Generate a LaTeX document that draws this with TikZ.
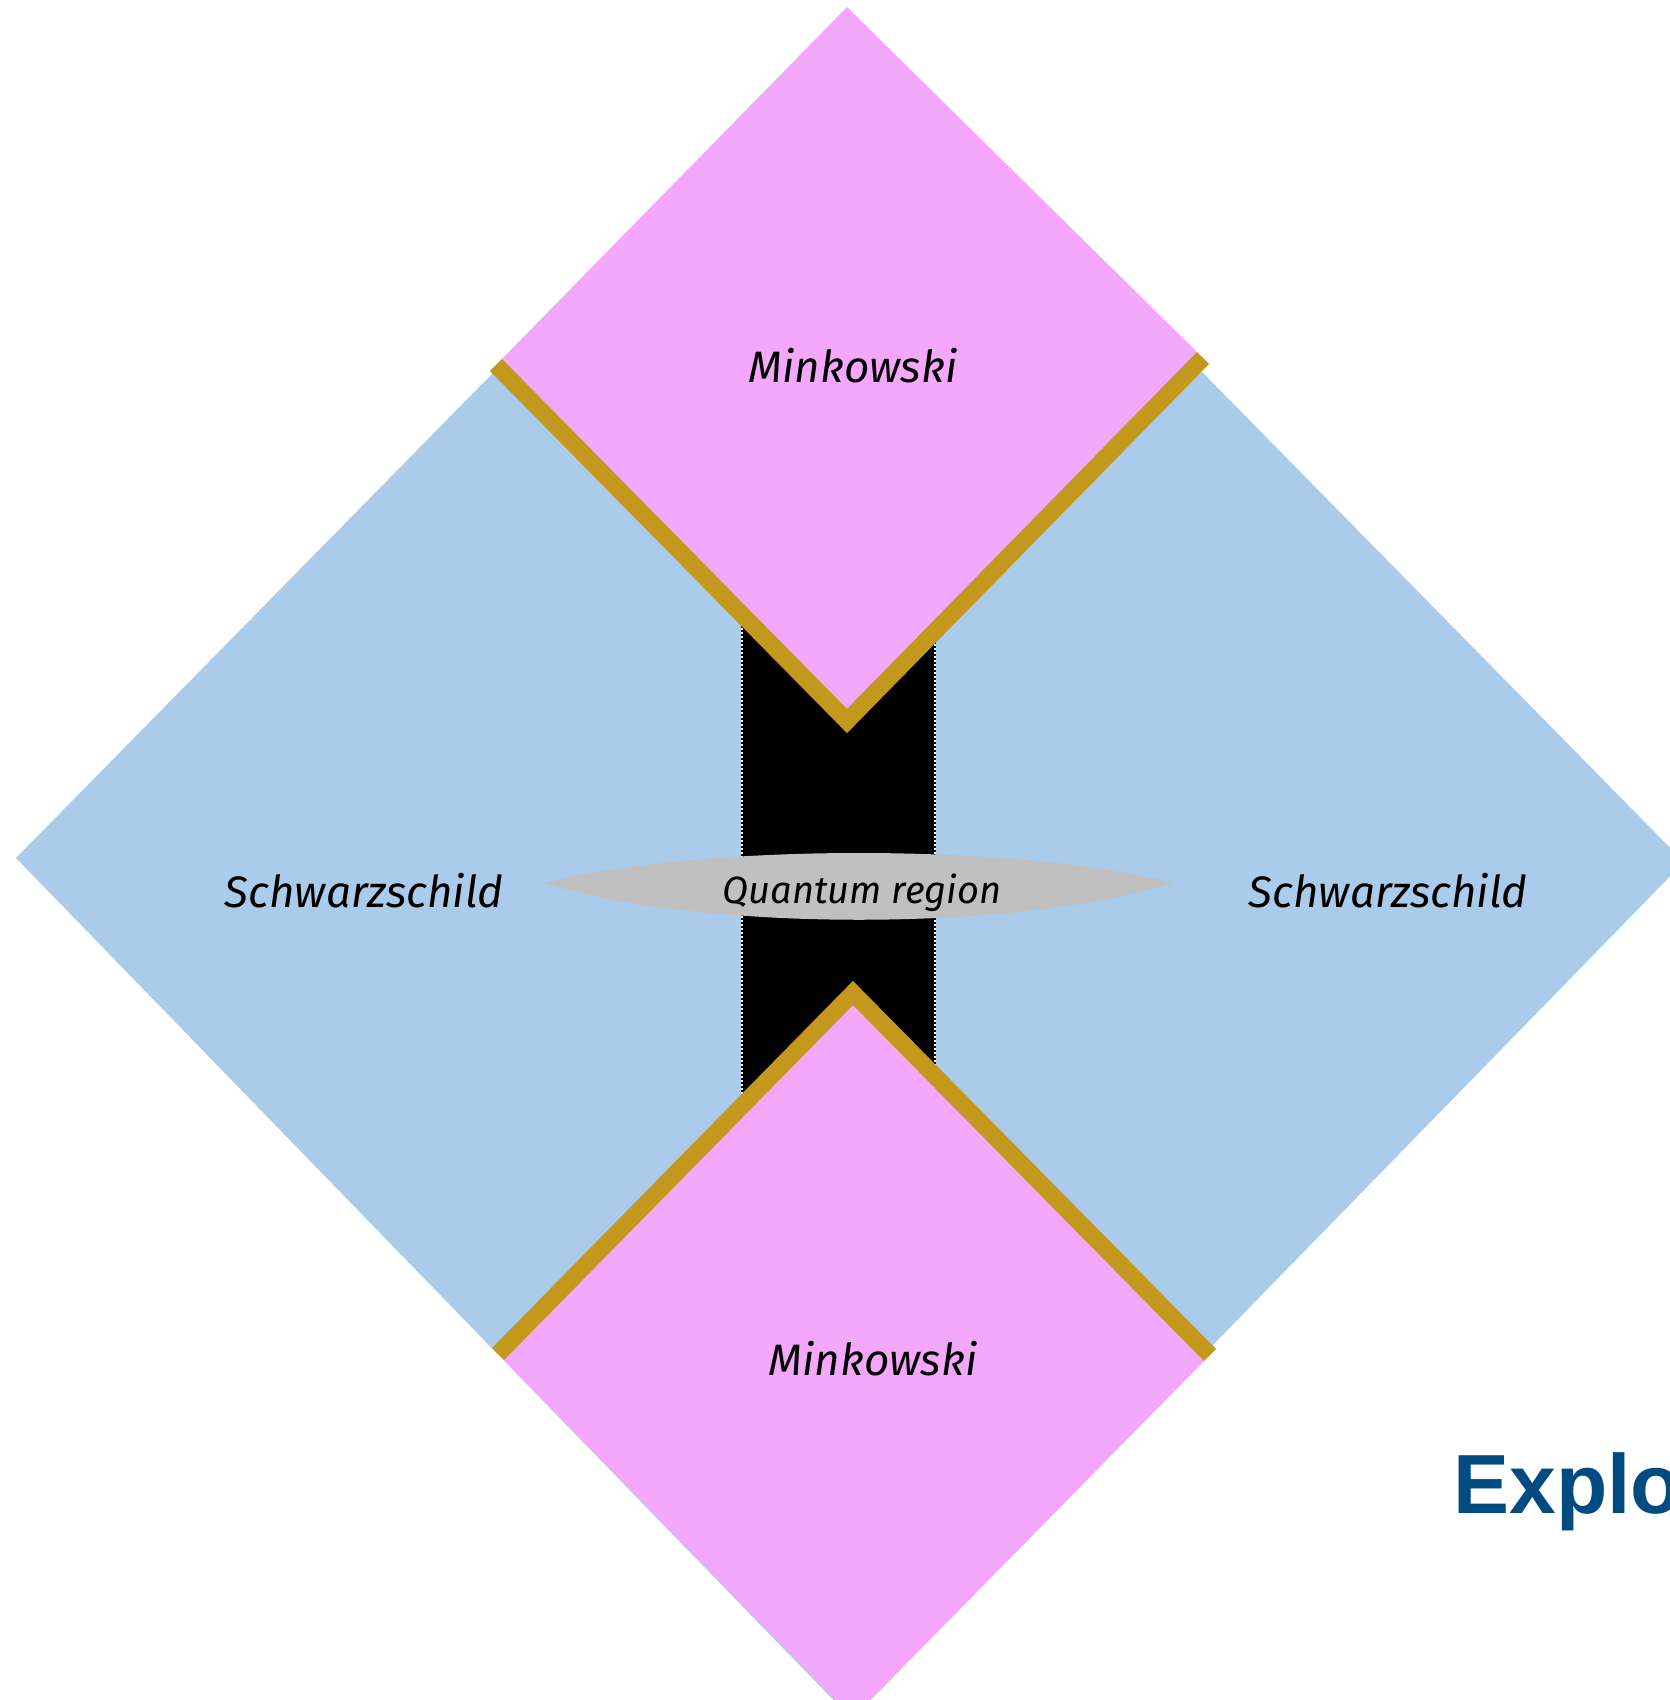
\documentclass[tikz,border=0pt]{standalone}
\usepackage{fontspec}
\usepackage{xcolor}
\usepackage{tikz}
\newfontfamily\handfont{Fira Sans}
\newfontfamily\titlefont{Liberation Sans}
\definecolor{schwarzblue}{HTML}{AACBEA}
\definecolor{minkpink}{HTML}{F4A8FC}
\definecolor{shellgold}{HTML}{C4981C}
\definecolor{lensgray}{HTML}{C0C0C0}
\definecolor{titleblue}{HTML}{004C80}
\tikzset{
	shell/.style={draw=shellgold, line width=8.5pt, line cap=butt, line join=miter},
	stripedge/.style={draw=white, line width=1.3pt, dash pattern=on 1pt off 1pt}
}
\tikzstyle{region} = [font=\handfont\itshape\fontsize{22}{26}\selectfont, anchor=base]
\tikzstyle{qlabel} = [font=\handfont\itshape\fontsize{19}{23}\selectfont, anchor=base]

\begin{document}
\begin{tikzpicture}[x=0.5pt, y=-0.5pt]
  \useasboundingbox (0,0) rectangle (1669,1700);

  % exterior regions
  \fill[schwarzblue] (16,858) -- (848,12) -- (1684,862) -- (850,1717) -- cycle;

  % strip between the shells
  \fill[black] (742,500) rectangle (935,1200);
  \draw[black, line width=1.3pt] (742,500) -- (742,1200) (935,500) -- (935,1200);
  \draw[stripedge] (742,500) -- (742,1200) (935,500) -- (935,1200);

  % flat patches
  \fill[minkpink] (847,7) -- (1203,358) -- (847,721) -- (496,365) -- cycle;
  \fill[minkpink] (853,993) -- (1210,1355) -- (853,1718) -- (498,1354) -- cycle;

  \coordinate (tl) at (496,365);
  \coordinate (tv) at (847,721);
  \coordinate (tr) at (1203,358);
  \coordinate (bl) at (498,1354);
  \coordinate (bv) at (853,993);
  \coordinate (br) at (1210,1355);
  \draw[shell] (tl) -- (tv) -- (tr);
  \draw[shell] (bl) -- (bv) -- (br);

  % quantum lens
  \coordinate (qw) at (545,883);
  \coordinate (qe) at (1173,883);
  \fill[lensgray] (qw) .. controls (702,843) and (1016,843) .. (qe)
                       .. controls (1016,932) and (702,932) .. (qw) -- cycle;

  \node[region] (minktop) at (853,383) {Minkowski};
  \node[region] (minkbot) at (873,1375) {Minkowski};
  \node[region] (schwleft) at (364,907) {Schwarzschild};
  \node[region] (schwright) at (1388,907) {Schwarzschild};
  \node[qlabel] (quantum) at (862,903) {Quantum region};

  \node[anchor=base west, inner sep=0pt, text=titleblue,
        font=\titlefont\bfseries\fontsize{42}{50}\selectfont] (title) at (1453,1513) {Explo};
\end{tikzpicture}
\end{document}
